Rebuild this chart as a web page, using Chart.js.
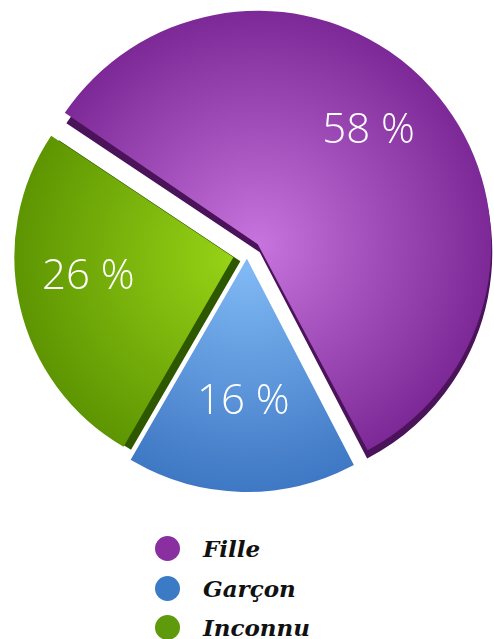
<!DOCTYPE html>
<html>
<head>
<meta charset="utf-8">
<script src="https://cdn.jsdelivr.net/npm/chart.js@4"></script>
<style>
  html, body { margin: 0; padding: 0; background: #fff; }
  #wrap { position: relative; width: 494px; height: 508px; }
  #legend { position: absolute; left: 155px; top: 529px; font-family: "DejaVu Serif", serif; font-style: italic; font-weight: bold; font-size: 23px; color: #111; }
  #legend .item { height: 39.5px; display: flex; align-items: center; }
  #legend .dot { width: 25px; height: 25px; border-radius: 50%; margin-right: 23px; }
</style>
</head>
<body>
<div id="wrap"><canvas id="chart"></canvas></div>
<div id="legend"></div>
<script>
const labels = ['Fille', 'Garçon', 'Inconnu'];
const values = [58, 16, 26];
const labelTexts = ['58 %', '16 %', '26 %'];
const offsets = [58, 52, 56];
const borderWidths = [0, 8, 0];
const legendColors = ['#8a2fa0', '#3b7bc6', '#5e9a0b'];
const innerColors = ['#c874de', '#80b9f4', '#97d316'];
const outerColors = ['#7a2694', '#3a73c0', '#588f00'];
const sideColors = ['#4b145a', '', '#2e5800'];
const sideShift = [[2, 8], [0, 0], [7, 4]];

// legend in html
const legend = document.getElementById('legend');
labels.forEach((l, i) => {
  const d = document.createElement('div');
  d.className = 'item';
  d.innerHTML = '<span class="dot" style="background:' + legendColors[i] + '"></span><span>' + l + '</span>';
  legend.appendChild(d);
});

const fill = (c) => {
  const chart = c.chart;
  const area = chart.chartArea;
  if (!area) return outerColors[c.dataIndex];
  const cx = (area.left + area.right) / 2;
  const cy = (area.top + area.bottom) / 2;
  const g = chart.ctx.createRadialGradient(cx, cy, 0, cx, cy, 240);
  g.addColorStop(0, innerColors[c.dataIndex]);
  g.addColorStop(1, outerColors[c.dataIndex]);
  return g;
};

// darker side faces drawn under each slice
const sidePlugin = {
  id: 'sides',
  beforeDatasetsDraw(chart) {
    const ctx = chart.ctx;
    chart.getDatasetMeta(0).data.forEach((arc, i) => {
      if (!sideColors[i]) return;
      const p = arc.getProps(['x', 'y', 'startAngle', 'endAngle', 'outerRadius']);
      const off = (arc.options.offset || 0) / 4;
      const mid = (p.startAngle + p.endAngle) / 2;
      const fix = 1 - Math.sin(Math.min(Math.PI, p.endAngle - p.startAngle));
      const x = p.x + Math.cos(mid) * off + sideShift[i][0];
      const y = p.y + Math.sin(mid) * off + sideShift[i][1];
      ctx.save();
      ctx.fillStyle = sideColors[i];
      ctx.beginPath();
      ctx.moveTo(x, y);
      ctx.arc(x, y, p.outerRadius + off * fix - 1, p.startAngle, p.endAngle);
      ctx.closePath();
      ctx.fill();
      ctx.restore();
    });
  }
};

const labelPlugin = {
  id: 'pctLabels',
  afterDatasetsDraw(chart) {
    const ctx = chart.ctx;
    chart.getDatasetMeta(0).data.forEach((arc, i) => {
      const p = arc.getProps(['x', 'y', 'startAngle', 'endAngle', 'outerRadius']);
      const off = (arc.options.offset || 0) / 4;
      const mid = (p.startAngle + p.endAngle) / 2;
      const r = off + p.outerRadius * 0.68;
      ctx.save();
      ctx.fillStyle = '#fff';
      ctx.font = '300 42px "Open Sans", "Liberation Sans", sans-serif';
      ctx.textAlign = 'center';
      ctx.textBaseline = 'middle';
      ctx.fillText(labelTexts[i], p.x + Math.cos(mid) * r, p.y + Math.sin(mid) * r - 14);
      ctx.restore();
    });
  }
};

new Chart(document.getElementById('chart'), {
  type: 'pie',
  data: {
    labels: labels,
    datasets: [{
      data: values,
      backgroundColor: fill,
      borderColor: fill,
      borderWidth: borderWidths,
      borderJoinStyle: 'miter',
      offset: offsets
    }]
  },
  options: {
    responsive: true,
    maintainAspectRatio: false,
    animation: false,
    rotation: -56.3,
    radius: 219,
    layout: { padding: { left: 0, top: 0, right: 0, bottom: 0 } },
    plugins: {
      legend: { display: false },
      tooltip: { enabled: false }
    }
  },
  plugins: [sidePlugin, labelPlugin]
});
</script>
</body>
</html>
